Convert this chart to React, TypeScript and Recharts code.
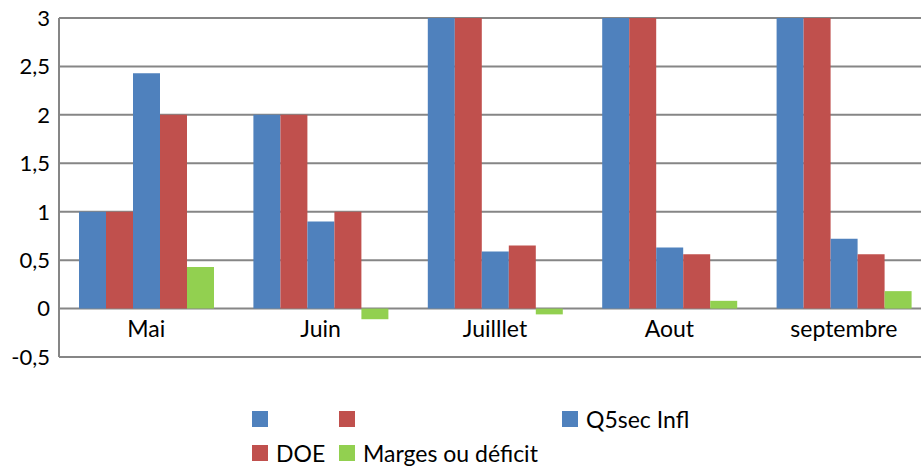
import React from 'react';
import { BarChart, Bar, XAxis, YAxis, CartesianGrid, Legend } from 'recharts';

const categories = ['Mai', 'Juin', 'Juilllet', 'Aout', 'septembre'];
const serieA = [1, 2, 4, 4, 4];
const serieB = [1, 2, 4, 4, 4];
const q5secInfl = [2.43, 0.9, 0.59, 0.63, 0.72];
const doe = [2, 1, 0.65, 0.56, 0.56];
const marges = [0.43, -0.11, -0.06, 0.08, 0.18];
const yTicks = [-0.5, 0, 0.5, 1, 1.5, 2, 2.5, 3];

const series = [
  { key: 'a', label: '', color: '#4F81BD', values: serieA },
  { key: 'b', label: '', color: '#C0504D', values: serieB },
  { key: 'q5', label: 'Q5sec Infl', color: '#4F81BD', values: q5secInfl },
  { key: 'doe', label: 'DOE', color: '#C0504D', values: doe },
  { key: 'marges', label: 'Marges ou déficit', color: '#92D050', values: marges },
];

const data = categories.map((name, i) => {
  const row: Record<string, string | number> = { name };
  series.forEach((s) => (row[s.key] = s.values[i]));
  return row;
});

const FONT = 'Lato, "Open Sans", sans-serif';

// legend slots like the Excel grid: two rows, three columns
const slots = [
  { x: 252, y: 32 },
  { x: 339, y: 32 },
  { x: 562, y: 32 },
  { x: 252, y: 66 },
  { x: 339, y: 66 },
];

const LegendGrid = () => (
  <div style={{ position: 'relative', width: '100%', height: 81, fontFamily: FONT }}>
    {series.map((s, i) => (
      <div
        key={s.key}
        style={{
          position: 'absolute',
          left: slots[i].x,
          top: slots[i].y - 13,
          height: 26,
          display: 'flex',
          alignItems: 'center',
          fontSize: 23,
          color: '#000',
          whiteSpace: 'nowrap',
        }}
      >
        <span style={{ width: 16, height: 16, background: s.color, display: 'inline-block', marginRight: 8 }} />
        {s.label}
      </div>
    ))}
  </div>
);

const CategoryTick = (props: any) => {
  const { x, y, payload } = props;
  return (
    <text x={x} y={y - 28} textAnchor="middle" fontSize={23} fontFamily={FONT} fill="#000">
      {payload.value}
    </text>
  );
};

export default function App() {
  return (
    <div style={{ position: 'absolute', left: 0, top: 0, width: 921, height: 468, overflow: 'hidden', background: '#fff' }}>
      <BarChart
        width={931}
        height={468}
        data={data}
        margin={{ top: 18, right: 0, bottom: 0, left: 0 }}
        barGap={0}
        barSize={27}
      >
        <CartesianGrid vertical={false} stroke="#868686" strokeWidth={2} />
        <XAxis dataKey="name" height={30} axisLine={false} tickLine={false} tick={<CategoryTick />} interval={0} />
        <YAxis
          width={59}
          domain={[-0.5, 3]}
          ticks={yTicks}
          allowDataOverflow
          tickLine={false}
          tickSize={0}
          tickMargin={9}
          axisLine={{ stroke: '#868686', strokeWidth: 2 }}
          tick={{ fill: '#000', fontSize: 22, fontFamily: FONT }}
          tickFormatter={(v: number) => String(v).replace('.', ',')}
        />
        <Legend verticalAlign="bottom" height={81} content={<LegendGrid />} />
        {series.map((s) => (
          <Bar key={s.key} dataKey={s.key} name={s.label || ' '} fill={s.color} isAnimationActive={false} />
        ))}
      </BarChart>
    </div>
  );
}
